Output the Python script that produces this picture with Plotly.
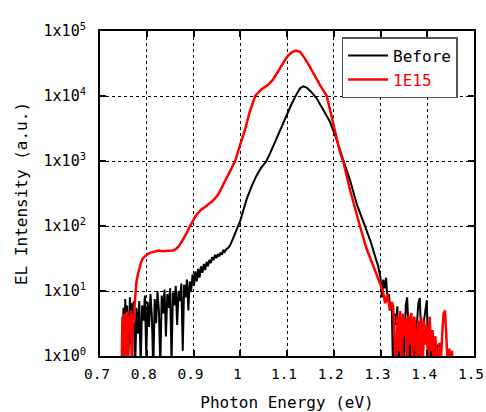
import plotly.graph_objects as go

# ---- Data ----
before_E = [0.748, 0.750, 0.752, 0.754, 0.756, 0.758, 0.760, 0.762, 0.764, 0.766, 0.768, 0.770, 0.772,
            0.775, 0.778, 0.781, 0.784, 0.787, 0.790, 0.793, 0.796, 0.799, 0.802, 0.805, 0.808, 0.811,
            0.814, 0.817, 0.820, 0.823, 0.826, 0.829, 0.832, 0.835, 0.838, 0.841, 0.844, 0.847, 0.850,
            0.853, 0.856, 0.859, 0.862, 0.865, 0.868, 0.871, 0.874, 0.877, 0.880, 0.883, 0.886, 0.889,
            0.892, 0.895, 0.898, 0.901, 0.904, 0.907, 0.910, 0.913, 0.916, 0.919, 0.922, 0.925, 0.928,
            0.931, 0.934, 0.937, 0.940, 0.943, 0.946, 0.949, 0.952, 0.955, 0.958, 0.961, 0.964, 0.967,
            0.970, 0.974, 0.978, 0.982, 0.986, 0.990, 0.994, 1.000, 1.007, 1.014, 1.025, 1.035, 1.045,
            1.056, 1.064, 1.075, 1.085, 1.099, 1.110, 1.120, 1.128, 1.135, 1.142, 1.152, 1.163, 1.175,
            1.192, 1.205, 1.213, 1.222, 1.235, 1.250, 1.267, 1.278, 1.288, 1.295, 1.300, 1.303, 1.306,
            1.309, 1.312, 1.315, 1.318, 1.321, 1.324, 1.327, 1.330, 1.333, 1.336, 1.339, 1.342, 1.345,
            1.348, 1.351, 1.354, 1.357, 1.360, 1.363, 1.366, 1.369, 1.372, 1.375, 1.378, 1.381, 1.384,
            1.387, 1.390, 1.393, 1.396, 1.399, 1.402, 1.405, 1.408, 1.411, 1.414, 1.417, 1.420, 1.423,
            1.427]
before_I = [0.5, 5.5, 1.2, 7.5, 2.0, 6.0, 0.6, 4.8, 8.0, 1.5, 6.5, 3.0, 7.0,
            0.5, 5.5, 2.2, 7.0, 0.7, 6.0, 3.5, 8.5, 1.0, 6.8, 2.8, 9.0, 4.0,
            0.6, 7.5, 3.2, 10.0, 5.0, 0.7, 8.5, 4.5, 10.5, 2.0, 9.0, 5.5, 11.0,
            0.8, 9.5, 6.0, 12.0, 3.0, 10.0, 7.0, 13.0, 1.2, 12.5, 8.0, 15.0, 5.0,
            14.0, 10.0, 18.0, 12.0, 20.0, 14.0, 22.0, 16.0, 24.0, 19.0, 26.0, 21.0, 28.0,
            24.0, 30.0, 27.0, 33.0, 30.0, 36.0, 32.0, 37.0, 34.0, 39.0, 36.0, 43.0, 40.0,
            44.0, 46.0, 50.0, 58.0, 68.0, 80.0, 94.0, 120, 178, 263, 417, 600, 794,
            1000, 1320, 2000, 3000, 5000, 7600, 10500, 13200, 14100, 13500, 11500, 9300, 6600,
            4000, 2240, 1480, 1000, 500, 209, 100, 60, 35, 24, 16, 8, 15,
            11, 16, 7, 9, 5, 6.5, 0.5, 4.5, 3.0, 5.8, 0.5, 4.0, 2.0,
            3.5, 1.0, 6.0, 8.0, 2.5, 0.6, 3.0, 1.5, 4.0, 0.5, 3.2, 6.5, 7.8,
            2.0, 0.6, 3.5, 5.0, 7.2, 1.0, 3.0, 0.5, 2.5, 1.2, 2.0, 0.6, 1.5,
            0.5]

dose_E = [0.746, 0.748, 0.750, 0.752, 0.754, 0.756, 0.758, 0.760, 0.762, 0.764, 0.766, 0.768, 0.770,
          0.772, 0.774, 0.776, 0.778, 0.781, 0.784, 0.788, 0.792, 0.797, 0.802, 0.808, 0.814, 0.820,
          0.826, 0.832, 0.838, 0.844, 0.850, 0.856, 0.862, 0.868, 0.874, 0.880, 0.886, 0.892, 0.898,
          0.904, 0.910, 0.916, 0.922, 0.928, 0.934, 0.940, 0.946, 0.952, 0.958, 0.964, 0.970, 0.976,
          0.982, 0.989, 1.000, 1.010, 1.020, 1.032, 1.045, 1.060, 1.070, 1.080, 1.091, 1.100, 1.110,
          1.119, 1.128, 1.138, 1.149, 1.160, 1.170, 1.185, 1.200, 1.213, 1.220, 1.235, 1.256, 1.270,
          1.288, 1.297, 1.305, 1.310, 1.315, 1.320, 1.324, 1.327, 1.330, 1.333, 1.336, 1.339, 1.342,
          1.345, 1.348, 1.351, 1.354, 1.357, 1.360, 1.363, 1.366, 1.369, 1.372, 1.375, 1.378, 1.381,
          1.384, 1.387, 1.390, 1.393, 1.396, 1.399, 1.402, 1.405, 1.408, 1.411, 1.414, 1.417, 1.420,
          1.423, 1.426, 1.429, 1.432, 1.435, 1.438, 1.441, 1.444, 1.447, 1.450, 1.453, 1.455]
dose_I = [0.5, 4.0, 1.5, 4.5, 0.6, 3.5, 4.8, 1.0, 4.2, 2.5, 5.0, 0.7, 4.5,
          3.0, 6.0, 10, 14, 18, 23, 28, 32, 35, 37, 39, 40, 41,
          42, 41, 41, 42, 42, 42, 44, 48, 56, 66, 80, 98, 118,
          140, 160, 178, 190, 205, 220, 240, 265, 300, 360, 440, 560, 680,
          820, 1000, 1800, 3000, 5600, 10000, 12600, 15000, 17800, 23000, 31600, 40000, 47000,
          50000, 48000, 38000, 28000, 20000, 15000, 10000, 3550, 1400, 1000, 355, 100, 45,
          21, 14, 10, 6.5, 9, 5.0, 6.8, 5.8, 2.5, 0.6, 4.0, 1.2, 4.9,
          0.5, 4.5, 2.0, 3.8, 0.7, 4.2, 1.5, 4.6, 0.6, 4.0, 2.5, 0.5, 3.5,
          1.0, 4.0, 0.6, 3.5, 1.5, 3.0, 0.7, 4.0, 1.2, 2.5, 0.6, 2.0, 1.0,
          0.5, 1.6, 0.8, 2.2, 4.5, 5.0, 1.5, 0.7, 1.3, 0.6, 1.2, 0.5]

x_ticks = [0.7, 0.8, 0.9, 1.0, 1.1, 1.2, 1.3, 1.4, 1.5]
x_labels = ["0.7", "0.8", "0.9", "1", "1.1", "1.2", "1.3", "1.4", "1.5"]
y_ticks = [1, 10, 100, 1000, 10000, 100000]
y_labels = ["1x10<sup>%d</sup>" % k for k in range(6)]

FONT = "DejaVu Sans Mono, monospace"

fig = go.Figure()
fig.add_trace(go.Scatter(x=before_E, y=before_I, mode="lines", name="Before",
                         line=dict(color="black", width=2)))
fig.add_trace(go.Scatter(x=dose_E, y=dose_I, mode="lines",
                         name="<span style='color:red'>1E15</span>",
                         line=dict(color="red", width=2.5)))

axis_common = dict(showline=True, linecolor="black", linewidth=2, mirror="ticks",
                   ticks="inside", ticklen=6, tickwidth=1.5, tickcolor="black",
                   showgrid=True, gridcolor="black", gridwidth=1, griddash="dot",
                   zeroline=False, automargin=False, ticklabeloverflow="allow")

fig.update_xaxes(range=[0.7, 1.5], tickvals=x_ticks, ticktext=x_labels,
                 ticklabelstandoff=4, ticklabelshift=-3,
                 tickfont=dict(size=14.5, color="black", family=FONT),
                 title=dict(text="Photon Energy (eV)", font=dict(size=16, color="black", family=FONT),
                            standoff=20),
                 **axis_common)
fig.update_yaxes(type="log", range=[0, 5], tickvals=y_ticks, ticktext=y_labels,
                 ticklabelstandoff=9,
                 tickfont=dict(size=15, color="black", family=FONT),
                 title=dict(text="EL Intensity (a.u.)", font=dict(size=16, color="black", family=FONT),
                            standoff=12),
                 **axis_common)

fig.update_layout(
    width=486, height=412,
    margin=dict(l=100, r=12, t=31, b=56),
    paper_bgcolor="white", plot_bgcolor="white",
    font=dict(family=FONT, color="black"),
    legend=dict(x=0.646, y=0.981, xanchor="left", yanchor="top",
                bgcolor="white", bordercolor="#555555", borderwidth=1.5,
                font=dict(size=16, color="black", family=FONT),
                itemwidth=40, tracegroupgap=0),
)

fig.write_html("out.html")
